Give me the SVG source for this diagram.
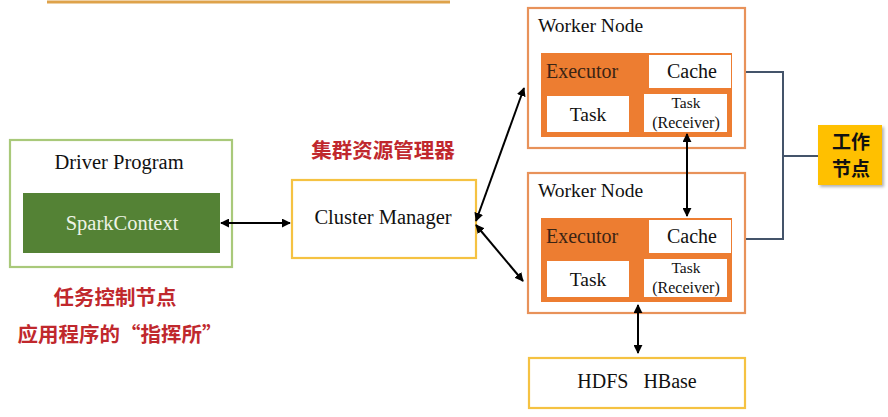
<svg xmlns="http://www.w3.org/2000/svg" width="888" height="417" viewBox="0 0 888 417">
<style>
.en{font-family:"Liberation Serif","Times New Roman",serif;fill:#111}
.zh{font-family:"Noto Sans CJK SC",sans-serif;font-weight:bold;fill:#c0282d}
.zk{font-family:"Noto Sans CJK SC",sans-serif;font-weight:bold;fill:#111}
.wk{fill:#fff;stroke:#e8925a;stroke-width:2.2}
.ex{fill:#ed7d31}
.wb{fill:#fff}
.con{stroke:#000;stroke-width:2;fill:none;marker-start:url(#ah);marker-end:url(#ah)}
.br{stroke:#44546a;stroke-width:2;fill:none}
</style>
<defs>
<marker id="ah" viewBox="0 0 10 10" refX="9" refY="5" markerWidth="4.5" markerHeight="4.5" orient="auto-start-reverse" markerUnits="strokeWidth">
<path d="M0,0 L10,5 L0,10 z" fill="#000"/>
</marker>
<filter id="sh" x="-20%" y="-20%" width="150%" height="150%">
<feDropShadow dx="2" dy="2" stdDeviation="1.5" flood-color="#000" flood-opacity="0.3"/>
</filter>
</defs>
<rect width="888" height="417" fill="#fff"/>
<line x1="47" y1="2" x2="450" y2="2" stroke="#dea24a" stroke-width="3"/>

<g id="driver">
<rect x="10" y="140" width="222" height="127" fill="#fff" stroke="#a9c97a" stroke-width="2.2"/>
<text class="en" x="119" y="169" font-size="20.5" text-anchor="middle">Driver Program</text>
<rect x="23" y="193" width="197" height="60" fill="#548235"/>
<text class="en" x="122" y="230" font-size="20.5" text-anchor="middle" style="fill:#eef3e6">SparkContext</text>
</g>

<g id="cluster">
<rect x="292" y="180" width="184" height="78" fill="#fff" stroke="#f5c242" stroke-width="2.2"/>
<text class="en" x="383" y="224" font-size="20.5" text-anchor="middle">Cluster Manager</text>
</g>

<g id="worker1">
<rect class="wk" x="528" y="8" width="217" height="140"/>
<text class="en" x="538" y="32" font-size="19.5">Worker Node</text>
<rect class="ex" x="541" y="53" width="191" height="84"/>
<text class="en" x="546" y="78" font-size="20" style="fill:#3a2414">Executor</text>
<rect class="wb" x="649" y="55" width="82" height="33"/>
<text class="en" x="692" y="78" font-size="20" text-anchor="middle">Cache</text>
<rect class="wb" x="547" y="96" width="82" height="36"/>
<text class="en" x="588" y="121" font-size="19.5" text-anchor="middle">Task</text>
<rect class="wb" x="644" y="94" width="83" height="38"/>
<text class="en" x="686" y="108" font-size="15.5" text-anchor="middle">Task</text>
<text class="en" x="686" y="128" font-size="16" text-anchor="middle">(Receiver)</text>
</g>

<g id="worker2">
<rect class="wk" x="528" y="173" width="217" height="140"/>
<text class="en" x="538" y="197" font-size="19.5">Worker Node</text>
<rect class="ex" x="541" y="218" width="191" height="84"/>
<text class="en" x="546" y="243" font-size="20" style="fill:#3a2414">Executor</text>
<rect class="wb" x="649" y="220" width="82" height="33"/>
<text class="en" x="692" y="243" font-size="20" text-anchor="middle">Cache</text>
<rect class="wb" x="547" y="261" width="82" height="36"/>
<text class="en" x="588" y="286" font-size="19.5" text-anchor="middle">Task</text>
<rect class="wb" x="644" y="259" width="83" height="38"/>
<text class="en" x="686" y="273" font-size="15.5" text-anchor="middle">Task</text>
<text class="en" x="686" y="293" font-size="16" text-anchor="middle">(Receiver)</text>
</g>

<g id="hdfs">
<rect x="529" y="358" width="216" height="50" fill="#fff" stroke="#f5c242" stroke-width="2.2"/>
<text class="en" x="637" y="388" font-size="20" text-anchor="middle" style="white-space:pre">HDFS   HBase</text>
</g>

<g id="label-worker">
<rect x="818" y="125" width="64" height="60" fill="#ffc000" filter="url(#sh)"/>
<text class="zk" x="851" y="149" font-size="19" text-anchor="middle">工作</text>
<text class="zk" x="851" y="176" font-size="19" text-anchor="middle">节点</text>
</g>

<g id="labels">
<text class="zh" x="383" y="158" font-size="20.5" text-anchor="middle">集群资源管理器</text>
<text class="zh" x="115" y="305" font-size="20.5" text-anchor="middle">任务控制节点</text>
<text class="zh" x="120" y="342" font-size="20.5" text-anchor="middle">应用程序的“指挥所”</text>
</g>

<g id="connectors">
<line class="con" x1="221" y1="223" x2="290" y2="223"/>
<line class="con" x1="476" y1="221" x2="524" y2="88"/>
<line class="con" x1="476" y1="225" x2="523" y2="281"/>
<line class="con" x1="687" y1="134" x2="687" y2="216"/>
<line class="con" x1="638" y1="305" x2="638" y2="353"/>
<path class="br" d="M746,72 H783 V239 H746 M783,156 H818"/>
</g>
</svg>
